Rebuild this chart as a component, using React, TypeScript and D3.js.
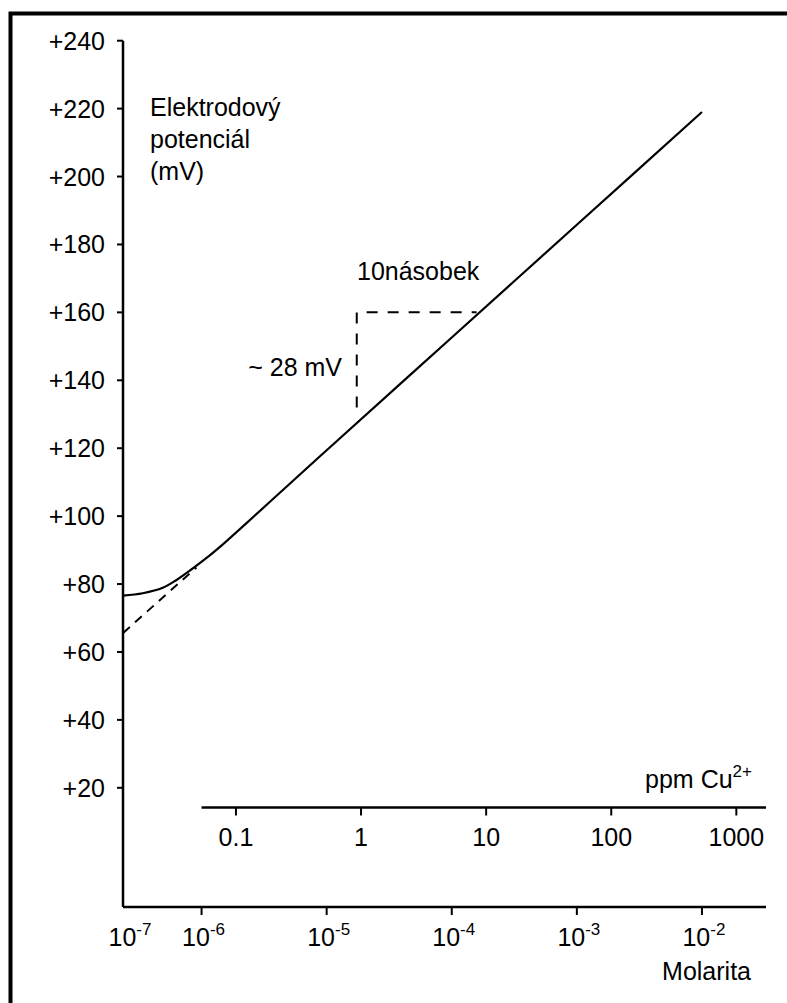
import React from 'react';
import * as d3 from 'd3';

// electrode potential vs Cu2+ concentration
const width = 787;
const height = 1003;

// molarity axis (log), 10^-7 sits on the axis origin
const molarTicks = [1e-6, 1e-5, 1e-4, 1e-3, 1e-2];
const originExp = '-7';
const ppmTicks = [0.1, 1, 10, 100, 1000];
const ppmPerMolar = 53100; // as drawn in the figure
const mvTicks = [20, 40, 60, 80, 100, 120, 140, 160, 180, 200, 220, 240];

// measured response
const curveMolar = [2.36e-7, 3.39e-7, 4.9e-7, 6.31e-7, 8.51e-7, 1.17e-6, 1.41e-6, 1e-5, 1e-4, 1e-3, 1e-2];
const curveMv = [76.6, 77.3, 78.9, 81.2, 84.6, 88.5, 91.0, 119.4, 152.6, 185.8, 219];

// extrapolation of the linear part
const extrapMolar = [2.36e-7, 9.1e-7];
const extrapMv = [65.6, 84.9];

// decade step
const stepMolar = [1.74e-5, 1.74e-5, 1.58e-4];
const stepMv = [132, 160, 160];

const font = '"Liberation Sans", Arial, sans-serif';
const fs = 25;

const App = () => {
  const x = d3.scaleLog().domain([Math.pow(10, -6.628), Math.pow(10, -1.488)]).range([123, 766]);
  const y = d3.scaleLinear().domain([-15.1, 240]).range([907, 40.7]);
  const x0 = x.range()[0];
  const x1 = x.range()[1];
  const yBottom = y.range()[0];
  const ppmY = 807.5;

  const line = d3.line<number>()
    .x((d, i) => x(curveMolar[i]))
    .y(d => y(d))
    .curve(d3.curveCatmullRom.alpha(0.5));
  const extrap = d3.line<number>().x((d, i) => x(extrapMolar[i])).y(d => y(d));
  const step = d3.line<number>().x((d, i) => x(stepMolar[i])).y(d => y(d));

  return (
    <div style={{ position: 'absolute', left: 0, top: 0 }}>
      <svg width={width} height={height} style={{ display: 'block', background: '#fff' }} fontFamily={font}>
        {/* frame */}
        <path d={`M10.5,${height} V13.5 H${width}`} fill="none" stroke="#000" strokeWidth={4} />

        {/* y axis */}
        <line x1={x0} x2={x0} y1={y(240)} y2={yBottom} stroke="#000" strokeWidth={2.5} />
        {mvTicks.map(v => (
          <g key={v}>
            <line x1={x0 - 6} x2={x0} y1={y(v)} y2={y(v)} stroke="#000" strokeWidth={2} />
            <text x={105} y={y(v) + 9} textAnchor="end" fontSize={fs}>{'+' + v}</text>
          </g>
        ))}
        <text x={150} fontSize={fs}>
          <tspan x={150} y={116}>Elektrodový</tspan>
          <tspan x={150} y={148}>potenciál</tspan>
          <tspan x={150} y={180}>(mV)</tspan>
        </text>

        {/* molarity axis */}
        <line x1={x0} x2={x1} y1={yBottom} y2={yBottom} stroke="#000" strokeWidth={2.5} />
        {molarTicks.map(m => (
          <g key={m}>
            <line x1={x(m)} x2={x(m)} y1={yBottom} y2={yBottom + 8} stroke="#000" strokeWidth={2} />
            <text x={x(m) + 2} y={946} textAnchor="middle" fontSize={fs}>
              10<tspan fontSize={17} dy={-11}>{String(Math.round(Math.log10(m)))}</tspan>
            </text>
          </g>
        ))}
        <text x={x0 + 7} y={946} textAnchor="middle" fontSize={fs}>
          10<tspan fontSize={17} dy={-11}>{originExp}</tspan>
        </text>
        <text x={751} y={980} textAnchor="end" fontSize={fs}>Molarita</text>

        {/* ppm axis */}
        <line x1={x(1e-6)} x2={x1} y1={ppmY} y2={ppmY} stroke="#000" strokeWidth={2.5} />
        {ppmTicks.map(p => (
          <g key={p}>
            <line x1={x(p / ppmPerMolar)} x2={x(p / ppmPerMolar)} y1={ppmY} y2={ppmY + 8} stroke="#000" strokeWidth={2} />
            <text x={x(p / ppmPerMolar)} y={846} textAnchor="middle" fontSize={fs}>{String(p)}</text>
          </g>
        ))}
        <text x={752} y={788} textAnchor="end" fontSize={fs}>
          ppm Cu<tspan fontSize={17} dy={-11}>2+</tspan>
        </text>

        {/* curves */}
        <path d={extrap(extrapMv) || ''} fill="none" stroke="#000" strokeWidth={2} strokeDasharray="9,7" />
        <path d={line(curveMv) || ''} fill="none" stroke="#000" strokeWidth={2.2} />
        <path d={step(stepMv) || ''} fill="none" stroke="#000" strokeWidth={2} strokeDasharray="11,10" />

        <text x={357} y={280} fontSize={fs}>10násobek</text>
        <text x={342} y={376} textAnchor="end" fontSize={fs}>~ 28 mV</text>
      </svg>
    </div>
  );
};

export default App;
